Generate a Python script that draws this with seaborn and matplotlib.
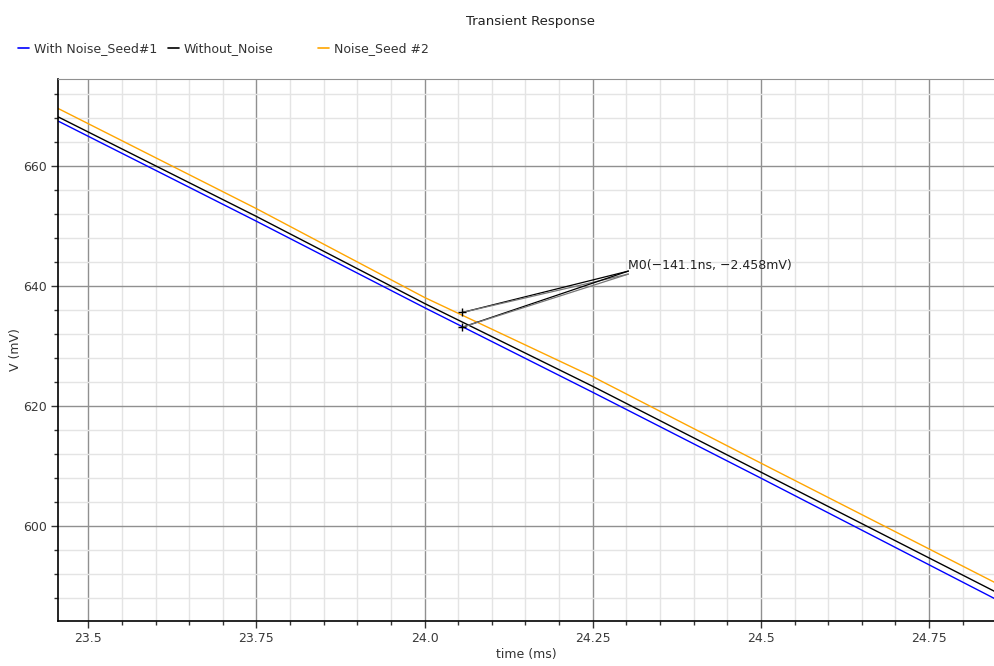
import numpy as np
import pandas as pd
import matplotlib
matplotlib.use("Agg")
import matplotlib.pyplot as plt
from matplotlib.ticker import MultipleLocator
from matplotlib.lines import Line2D
import seaborn as sns

# Data
time_ms = [23.455, 23.75, 24.0, 24.25, 24.5, 24.848]
seed1_mv = [667.5, 650.8, 636.4, 622.3, 608.0, 587.9]
no_noise_mv = [668.2, 651.6, 637.1, 623.3, 609.0, 589.1]
seed2_mv = [669.6, 652.9, 638.1, 624.9, 610.5, 590.6]
series_names = ["With Noise_Seed#1", "Without_Noise", "Noise_Seed #2"]
series_colors = ["#0000ff", "#000000", "#ffa500"]

marker_t = [24.056, 24.056]
marker_v = [635.6, 633.14]
marker_text = "M0(\u2212141.1ns, \u22122.458mV)"
text_t, text_v = 24.303, 642.3

df = pd.DataFrame({
    "time": time_ms * 3,
    "V": seed1_mv + no_noise_mv + seed2_mv,
    "series": [series_names[0]] * len(time_ms) + [series_names[1]] * len(time_ms)
              + [series_names[2]] * len(time_ms),
})

sns.set_style("white")
plt.rcParams["font.family"] = ["DejaVu Sans"]

fig = plt.figure(figsize=(9.95, 6.66), dpi=100)
ax = fig.add_axes([58 / 995, 1 - 621 / 666, 1 - 58 / 995, (621 - 79) / 666])

sns.lineplot(data=df, x="time", y="V", hue="series", hue_order=series_names,
             palette=series_colors, linewidth=1.0, legend=False, ax=ax)

ax.set_xlim(23.455, 24.848)
ax.set_ylim(584.2, 674.5)

ax.xaxis.set_major_locator(MultipleLocator(0.25))
ax.xaxis.set_minor_locator(MultipleLocator(0.05))
ax.yaxis.set_major_locator(MultipleLocator(20))
ax.yaxis.set_minor_locator(MultipleLocator(4))
ax.set_xticks([23.5, 23.75, 24.0, 24.25, 24.5, 24.75])
ax.set_xticklabels(["23.5", "23.75", "24.0", "24.25", "24.5", "24.75"])

ax.grid(which="major", color="#909090", linewidth=1.0)
ax.grid(which="minor", color="#e4e4e4", linewidth=1.0)
ax.set_axisbelow(True)

ax.tick_params(which="major", direction="out", length=5, width=1, color="#333333",
               labelsize=9, labelcolor="#3a3a3a", left=True, bottom=True, pad=3)
ax.tick_params(which="minor", direction="out", length=3, width=1, color="#333333",
               left=True, bottom=True)

for side in ["left", "bottom"]:
    ax.spines[side].set_color("#000000")
    ax.spines[side].set_linewidth(1.2)
ax.spines["top"].set_color("#909090")
ax.spines["right"].set_visible(False)

ax.set_xlabel("time (ms)", fontsize=9, color="#333333", labelpad=2)
ax.set_ylabel("V (mV)", fontsize=9, color="#333333")
ax.yaxis.set_label_coords(-36 / 937, 0.5)

# marker annotation
ax.plot(marker_t, marker_v, linestyle="none", marker="+", markersize=6,
        markeredgewidth=1.0, color="#000000", zorder=5)
for mt, mv in zip(marker_t, marker_v):
    ax.plot([mt, text_t], [mv, text_v + 0.2], color="#000000", linewidth=0.9, zorder=4)
    ax.plot([mt, text_t], [mv, text_v - 0.3], color="#777777", linewidth=0.9, zorder=4)
ax.text(text_t, text_v, marker_text, fontsize=9, color="#222222", ha="left", va="bottom")

fig.suptitle("Transient Response", x=0.533, y=0.978, fontsize=9.5, color="#222222")

# legend: three equal-width entries at the top left
legend_x = [18 / 995, 168 / 995, 318 / 995]
for name, color, lx in zip(series_names, series_colors, legend_x):
    handle = Line2D([], [], color=color, linewidth=1.2)
    fig.legend([handle], [name], loc="center left", bbox_to_anchor=(lx, 1 - 49 / 666),
               frameon=False, fontsize=9, handlelength=0.9, handletextpad=0.35,
               borderaxespad=0, borderpad=0, labelcolor="#333333")

fig.savefig("out.png", dpi=100)
